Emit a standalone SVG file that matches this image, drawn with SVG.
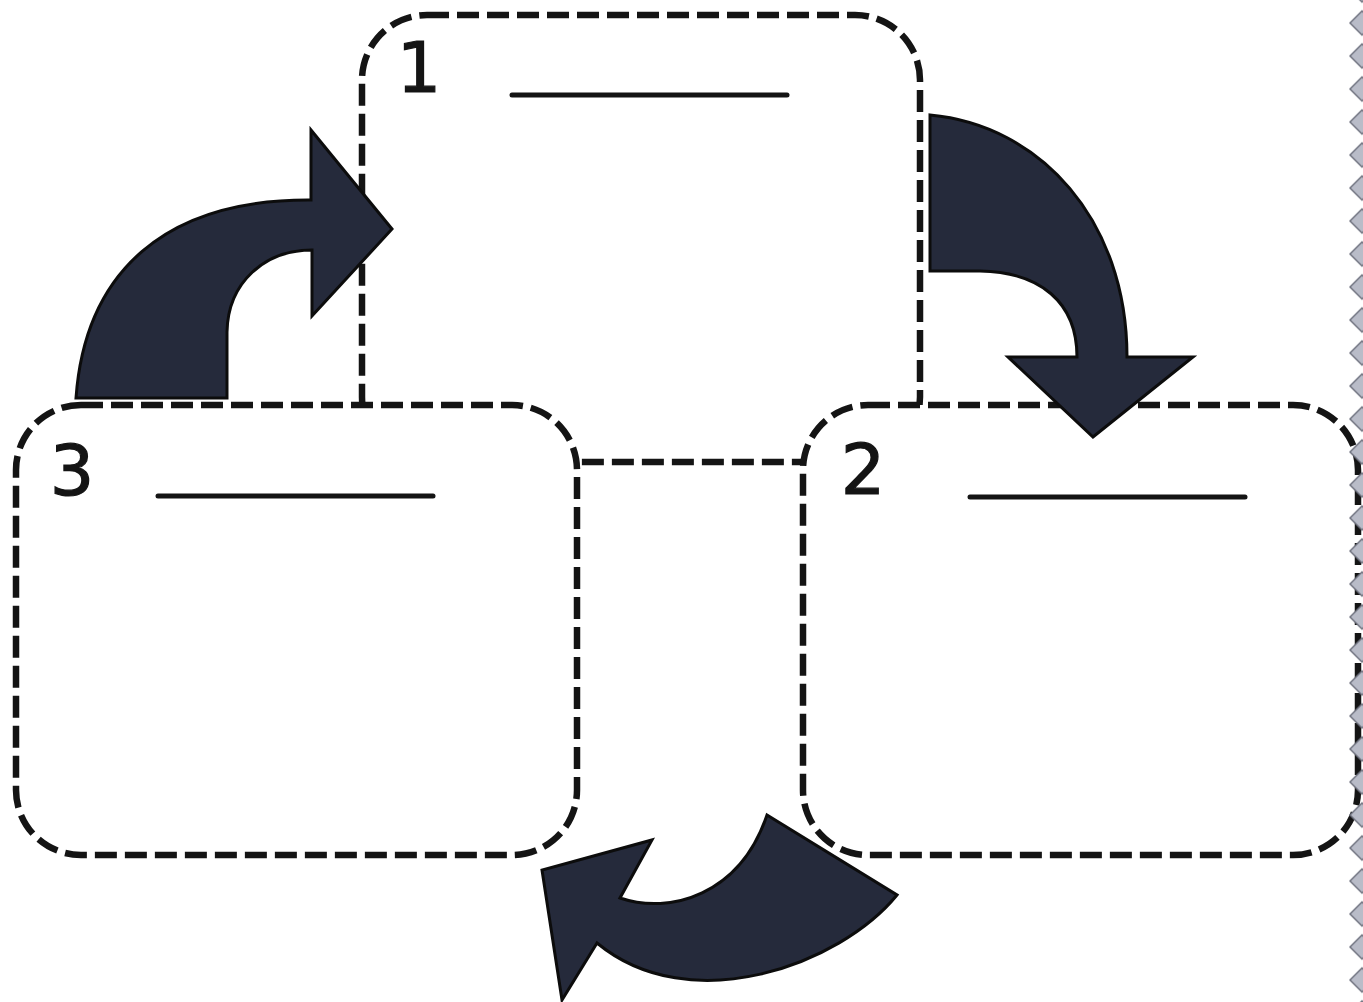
<svg xmlns="http://www.w3.org/2000/svg" width="1363" height="1002" viewBox="0 0 1363 1002">
  <style>
    .box { fill: #ffffff; stroke: #141414; stroke-width: 6.5; stroke-dasharray: 22 8; }
    .blank { stroke: #141414; stroke-width: 5; stroke-linecap: round; fill: none; }
    .num { font-family: "DejaVu Sans", "Liberation Sans", sans-serif; font-size: 70px; fill: #141414; stroke: #141414; stroke-width: 1.2; text-anchor: middle; }
    .arrow { fill: #252a3b; stroke: #0c0c0c; stroke-width: 3; stroke-linejoin: miter; }
  </style>
  <defs>
    <pattern id="diamonds" patternUnits="userSpaceOnUse" x="1340" y="6.5" width="40" height="33">
      <polygon points="10,16.5 22,4.5 34,16.5 22,28.5" fill="#b9bcc8" stroke="#6c6f7c" stroke-width="1.5"/>
    </pattern>
  </defs>
  <rect x="0" y="0" width="1363" height="1002" fill="#ffffff"/>

  <g id="node-1">
    <rect class="box" x="362" y="15" width="558" height="447" rx="65" ry="65"/>
    <text class="num" x="419" y="92">1</text>
    <line class="blank" x1="512" y1="95" x2="787" y2="95"/>
  </g>
  <g id="node-3">
    <rect class="box" x="16" y="405" width="561" height="450" rx="65" ry="65"/>
    <text class="num" x="72" y="495">3</text>
    <line class="blank" x1="158" y1="496" x2="433" y2="496"/>
  </g>
  <g id="node-2">
    <rect class="box" x="803" y="405" width="555" height="450" rx="65" ry="65"/>
    <text class="num" x="863" y="494">2</text>
    <line class="blank" x1="970" y1="497" x2="1245" y2="497"/>
  </g>

  <g id="connectors">
    <path id="arrow-3-1" class="arrow" d="M 76 398 C 85 272, 165 199, 311 200 L 311 130 L 392 229 L 312 316 L 312 250 C 265 250, 228 282, 227 332 L 227 398 Z"/>
    <path id="arrow-1-2" class="arrow" d="M 930 115 C 1040 125, 1127 220, 1127 357 L 1193 357 L 1093 437 L 1008 357 L 1077 357 C 1077 302, 1040 272, 980 271 L 930 271 Z"/>
    <path id="arrow-2-3" class="arrow" d="M 767 815 L 897 895 C 840 965, 690 1020, 597 943 L 562 1000 L 542 870 L 652 840 L 620 898 C 670 915, 740 895, 767 815 Z"/>
  </g>

  <rect x="1340" y="0" width="23" height="1002" fill="url(#diamonds)"/>
</svg>
